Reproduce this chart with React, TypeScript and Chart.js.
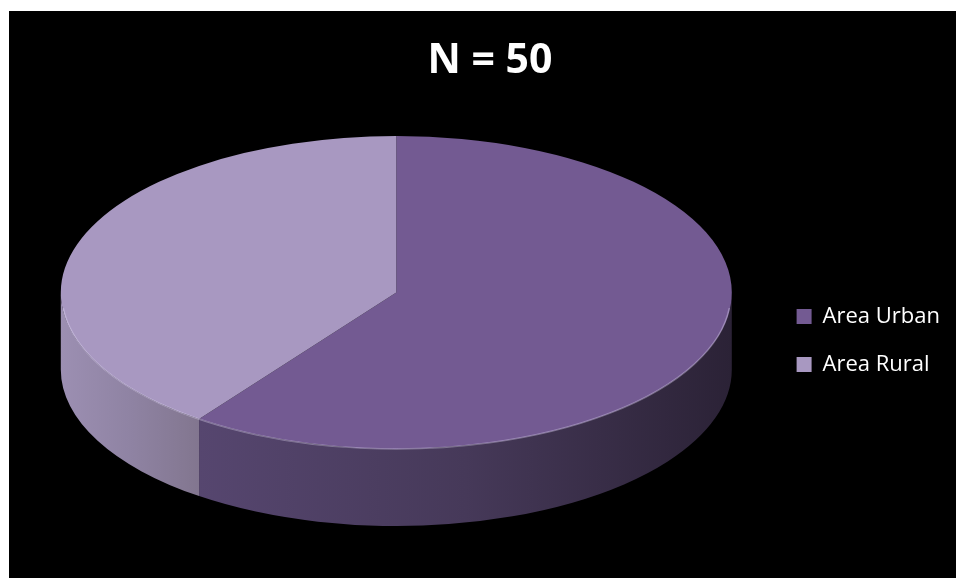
import React, { useEffect, useRef } from "react";
import { Chart, registerables } from "chart.js";

Chart.register(...registerables);

// ---- data ----
const labels: string[] = ["Area Urban", "Area Rural"];
const values: number[] = [30, 20];
const titleText = "N = 50";

// ---- styles ----
const topColors: string[] = ["#735a92", "#a898c1"];
const wallStops: string[][] = [
  ["#56466f", "#463959", "#2b2236"],
  ["#9c8fb2", "#8f83a3", "#82768f"],
];

// target ellipse geometry (canvas px)
const CX = 387.3;
const CY = 281.5;
const RX = 335.5;
const RY = 156.5;
const DEPTH = 77;

const pie3d = {
  id: "pie3d",
  beforeDatasetsDraw(chart: any) {
    const meta = chart.getDatasetMeta(0);
    const arcs = meta.data;
    if (!arcs || !arcs.length) return;
    const ctx = chart.ctx as CanvasRenderingContext2D;
    arcs.forEach((arc: any, i: number) => {
      const s = arc.startAngle;
      const e = arc.endAngle;
      const a1 = Math.max(s, 0);
      const a2 = Math.min(e, Math.PI);
      if (a2 <= a1) return;
      const xl = CX + RX * Math.cos(a2);
      const xr = CX + RX * Math.cos(a1);
      const g = ctx.createLinearGradient(xl, 0, xr, 0);
      const st = wallStops[i % wallStops.length];
      g.addColorStop(0, st[0]);
      g.addColorStop(0.5, st[1]);
      g.addColorStop(1, st[2]);
      ctx.save();
      ctx.fillStyle = g;
      ctx.beginPath();
      ctx.ellipse(CX, CY, RX, RY, 0, a1, a2, false);
      ctx.ellipse(CX, CY + DEPTH, RX, RY, 0, a2, a1, true);
      ctx.closePath();
      ctx.fill();
      ctx.restore();
    });
    const { x, y, outerRadius } = arcs[0];
    ctx.save();
    ctx.translate(CX, CY);
    ctx.scale(RX / outerRadius, RY / outerRadius);
    ctx.translate(-x, -y);
  },
  afterDatasetsDraw(chart: any) {
    const meta = chart.getDatasetMeta(0);
    if (!meta.data || !meta.data.length) return;
    const ctx = chart.ctx as CanvasRenderingContext2D;
    ctx.restore();
    ctx.save();
    ctx.strokeStyle = "rgba(235,225,255,0.35)";
    ctx.lineWidth = 1.5;
    ctx.beginPath();
    ctx.ellipse(CX, CY + 1, RX - 1, RY - 1, 0, 0.03 * Math.PI, 0.97 * Math.PI, false);
    ctx.stroke();
    ctx.restore();
  },
};

export default function App() {
  const ref = useRef<HTMLCanvasElement | null>(null);
  useEffect(() => {
    if (!ref.current) return;
    const chart = new Chart(ref.current, {
      type: "pie",
      data: {
        labels,
        datasets: [
          {
            data: values,
            backgroundColor: topColors,
            borderWidth: 0,
            clip: false as any,
          },
        ],
      },
      options: {
        responsive: false,
        animation: false,
        events: [],
        layout: { padding: { left: 21, right: 6, top: 0, bottom: 0 } },
        plugins: {
          tooltip: { enabled: false },
          title: {
            display: true,
            text: titleText,
            color: "#ffffff",
            font: { family: "'Open Sans'", size: 41, weight: "bold" },
            padding: { top: 26, bottom: 17 },
          },
          legend: {
            position: "right",
            fullSize: false,
            labels: {
              color: "#ffffff",
              font: { family: "'Open Sans'", size: 22 },
              boxWidth: 15,
              boxHeight: 15,
              padding: 26,
            },
          },
        },
      },
      plugins: [pie3d],
    });
    return () => chart.destroy();
  }, []);
  return (
    <div
      style={{
        position: "absolute",
        left: 9,
        top: 11,
        width: 947,
        height: 567,
        background: "#000000",
      }}
    >
      <canvas ref={ref} width={947} height={567} style={{ display: "block" }} />
    </div>
  );
}
